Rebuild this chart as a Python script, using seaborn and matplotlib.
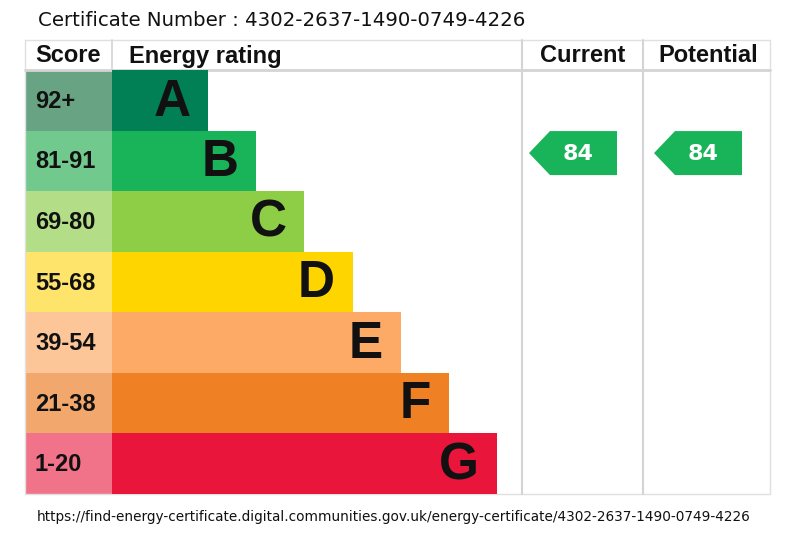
import numpy as np
import pandas as pd
import matplotlib
matplotlib.use("Agg")
import matplotlib.pyplot as plt
import seaborn as sns
from matplotlib.patches import Rectangle, Polygon

# data
bands = ["A", "B", "C", "D", "E", "F", "G"]
scores = ["92+", "81-91", "69-80", "55-68", "39-54", "21-38", "1-20"]
band_min = [92, 81, 69, 55, 39, 21, 1]
bar_len = [2, 3, 4, 5, 6, 7, 8]
bar_colors = ["#008054", "#19b459", "#8dce46", "#ffd500", "#fcaa65", "#ef8023", "#e9153b"]
score_colors = ["#68a384", "#72c98d", "#b3dd86", "#ffe46c", "#fdc698", "#f2a86c", "#f0738a"]
current = 84
potential = 84
cert_no = "4302-2637-1490-0749-4226"

sns.set_theme(style="white")
plt.rcParams["font.family"] = ["Liberation Sans", "DejaVu Sans"]

W, H = 800, 533
fig = plt.figure(figsize=(8, 5.33), dpi=100)
ax = fig.add_axes([0, 0, 1, 1])
ax.set_xlim(0, W)
ax.set_ylim(H, 0)
ax.axis("off")

# table layout (pixels)
left, score_r, cur_l, pot_l, right = 25, 112, 522, 643, 770
top, head_b, bottom = 40, 70, 494
row_h = (bottom - head_b) / len(bands)
grid = "#d4d4d4"

# rating bars in their own axes
rax = fig.add_axes([score_r / W, 1 - bottom / H, (cur_l - score_r) / W, (bottom - head_b) / H])
df = pd.DataFrame({"band": bands, "len": bar_len})
sns.barplot(data=df, x="len", y="band", hue="band", palette=bar_colors, legend=False,
            orient="h", width=1.0, saturation=1, linewidth=0, ax=rax)
px_per_unit = 48.1
rax.set_xlim(0, (cur_l - score_r) / px_per_unit)
rax.set_ylim(len(bands) - 0.5, -0.5)
rax.axis("off")
for i, (b, l) in enumerate(zip(bands, bar_len)):
    rax.text(l - 0.37, i + 0.03, b, ha="right", va="center", fontsize=37,
             fontweight="bold", color="#111111")

# score column
for i, (s, c) in enumerate(zip(scores, score_colors)):
    y0 = head_b + i * row_h
    ax.add_patch(Rectangle((left, y0), score_r - left, row_h, color=c, lw=0))
    ax.text(35, y0 + row_h / 2 + 1, s, ha="left", va="center", fontsize=17,
            fontweight="bold", color="#111111")

# grid lines
ax.plot([left, right, right, left, left], [top, top, bottom, bottom, top], color="#e0e0e0", lw=1)
ax.plot([left, right], [head_b, head_b], color=grid, lw=2)
ax.plot([score_r, score_r], [top, head_b], color=grid, lw=1.2)
for x in (cur_l, pot_l):
    ax.plot([x, x], [top, bottom], color=grid, lw=1.5)

# headers
hy = (top + head_b) / 2 + 1
ax.text(35, hy, "Score", ha="left", va="center", fontsize=17, fontweight="bold", color="#111111")
ax.text(129, hy, "Energy rating", ha="left", va="center", fontsize=17, fontweight="bold", color="#111111")
ax.text((cur_l + pot_l) / 2, hy, "Current", ha="center", va="center", fontsize=17, fontweight="bold", color="#111111")
ax.text((pot_l + right) / 2 + 2, hy, "Potential", ha="center", va="center", fontsize=17, fontweight="bold", color="#111111")


def band_index(v):
    for i, m in enumerate(band_min):
        if v >= m:
            return i
    return len(band_min) - 1


def arrow(x_tip, value):
    i = band_index(value)
    y0 = head_b + i * row_h + 0.5
    h = 44
    x_b, x_r = x_tip + 21, x_tip + 88
    pts = [(x_tip, y0 + h / 2), (x_b, y0), (x_r, y0), (x_r, y0 + h), (x_b, y0 + h)]
    ax.add_patch(Polygon(pts, closed=True, color=bar_colors[i], lw=0))
    ax.text((x_b + x_r) / 2 - 5, y0 + h / 2 + 1, str(value), ha="center", va="center",
            fontsize=16, fontweight="bold", family="DejaVu Sans", color="white")


arrow(529, current)
arrow(654, potential)

ax.text(38, 20, "Certificate Number : " + cert_no, ha="left", va="center", fontsize=14.2,
        family="DejaVu Sans", color="#111111")
ax.text(37, 517, "https://find-energy-certificate.digital.communities.gov.uk/energy-certificate/" + cert_no,
        ha="left", va="center", fontsize=9.8, family="DejaVu Sans", color="#111111")

fig.savefig("out.png", dpi=100)
